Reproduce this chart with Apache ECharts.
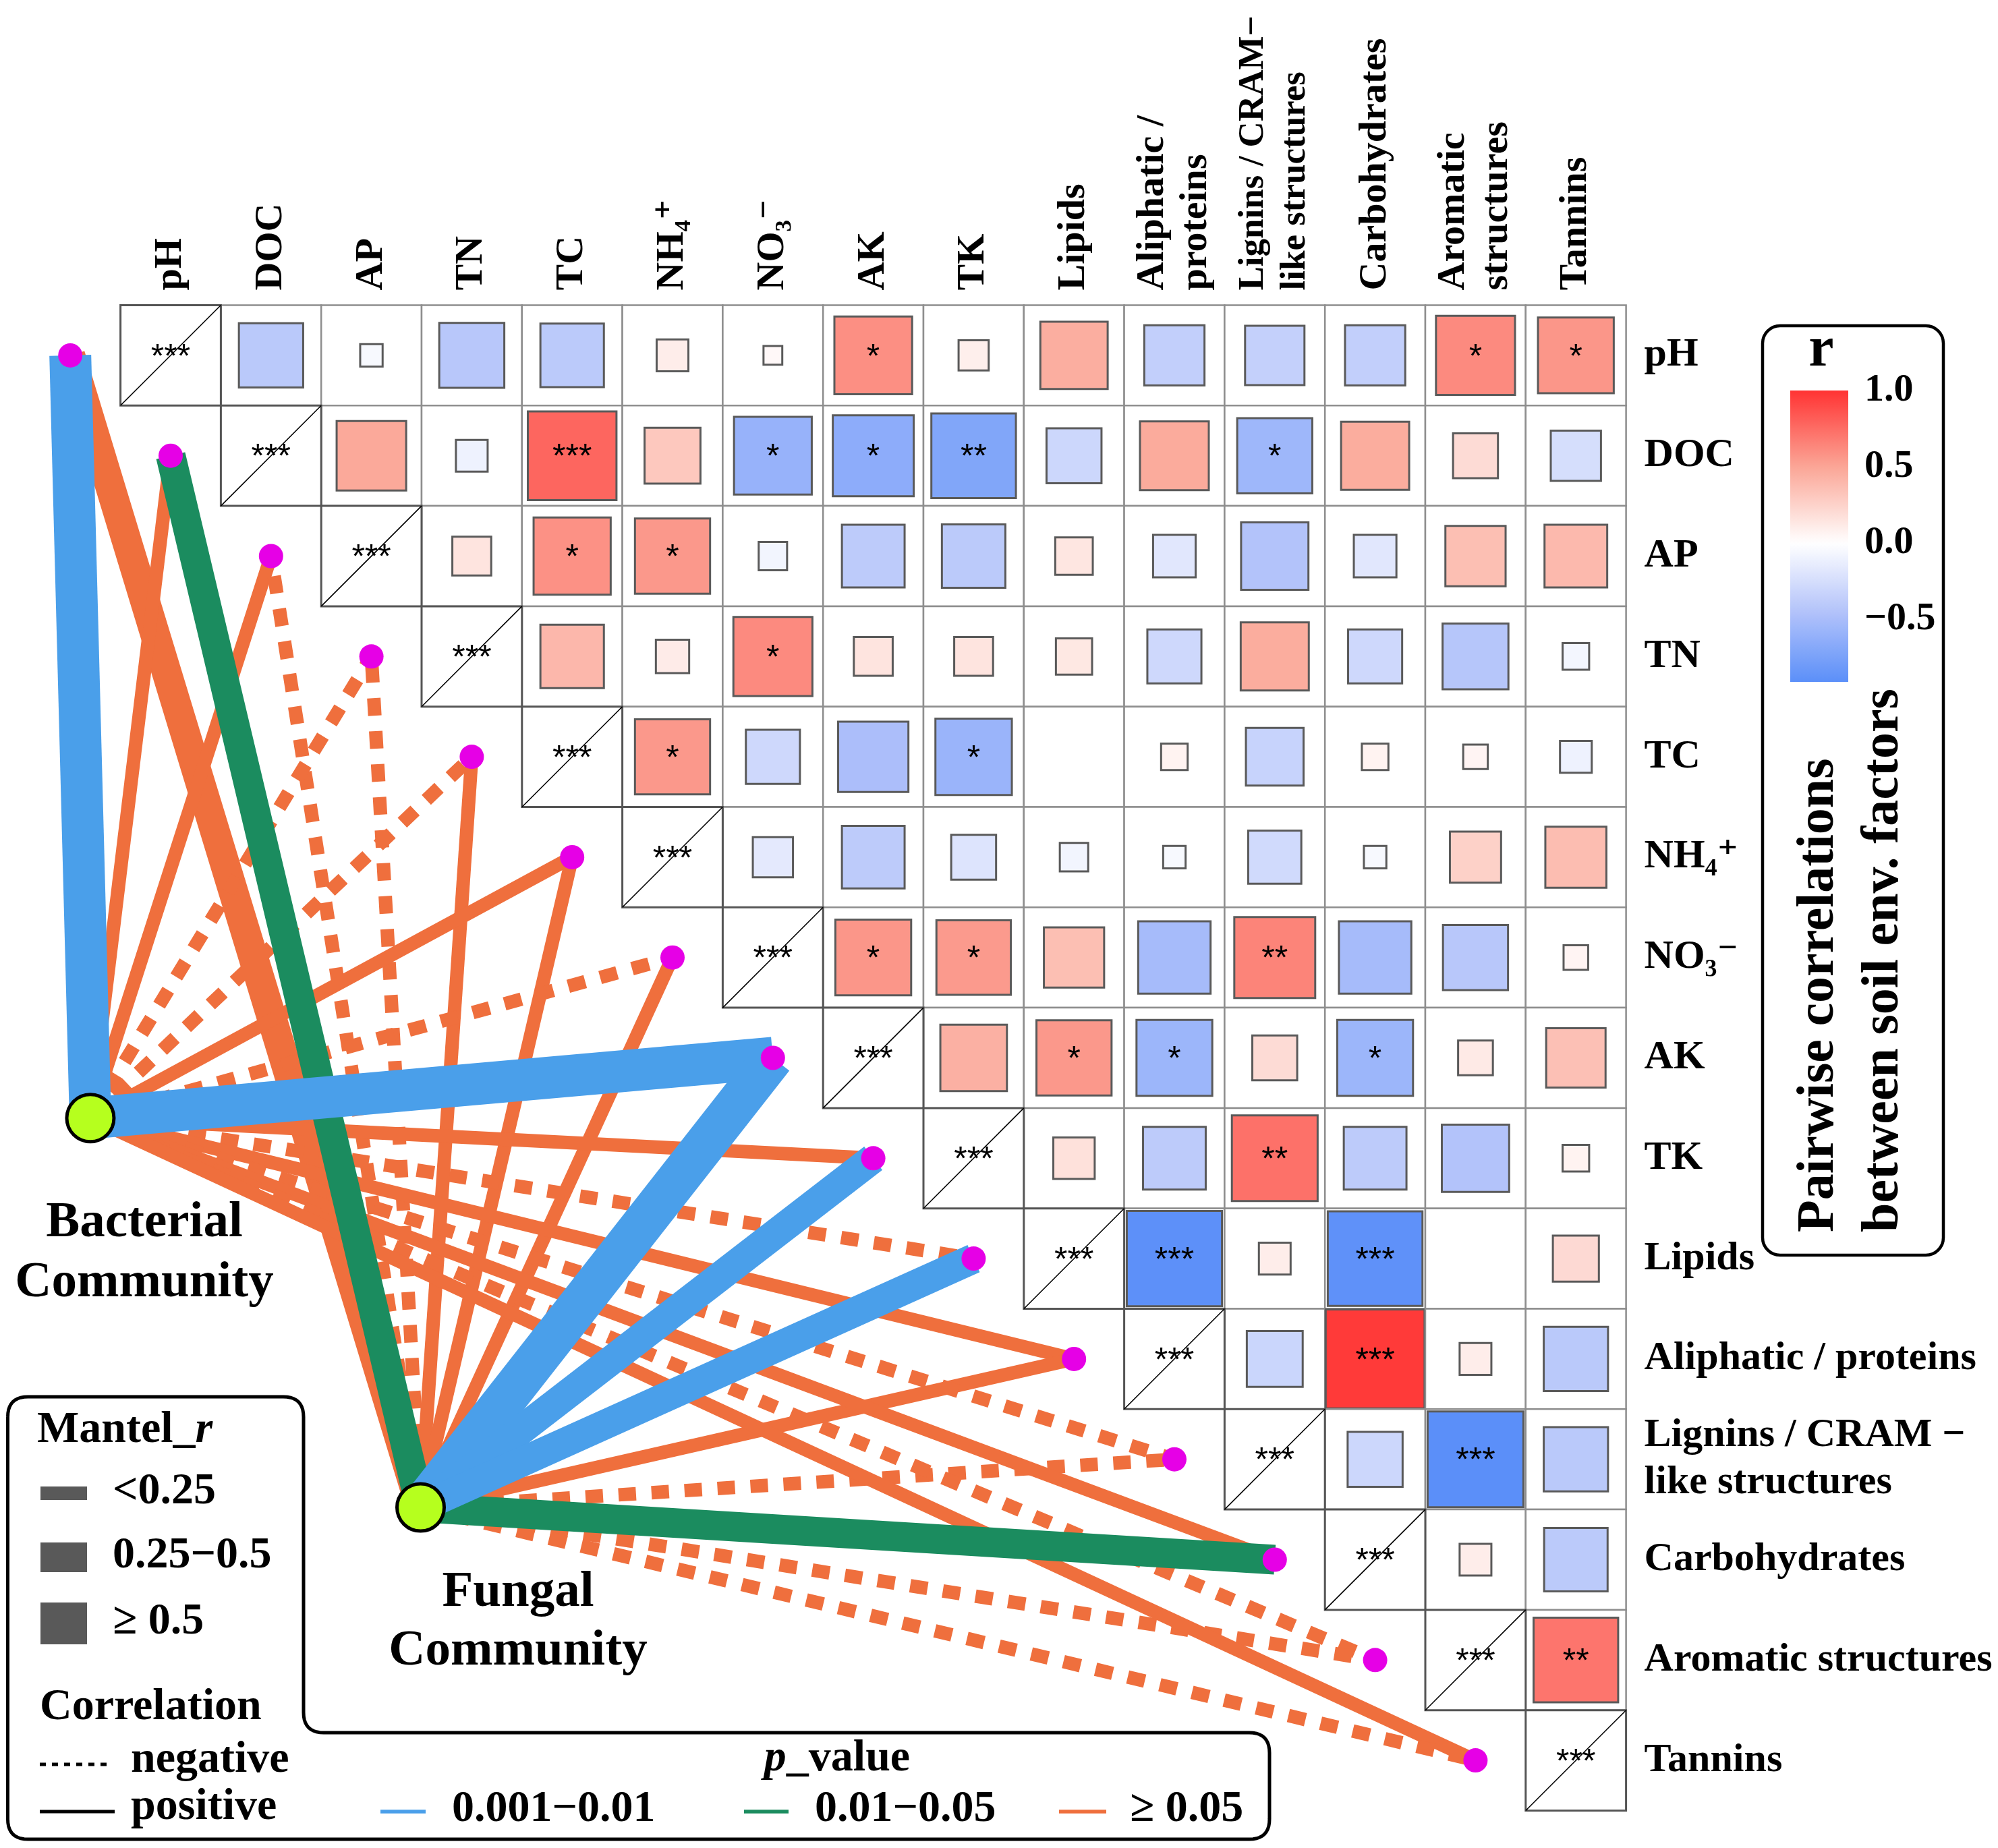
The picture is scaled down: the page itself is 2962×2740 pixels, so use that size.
<!DOCTYPE html>
<html><head><meta charset="utf-8">
<script src="https://cdn.jsdelivr.net/npm/echarts@6/dist/echarts.min.js"></script>
<style>html,body{margin:0;padding:0;background:#fff}#c{width:2962px;height:2740px}</style>
</head><body><div id="c"></div>
<script>
// ---------- DATA ----------
const colLabels = ['pH','DOC','AP','TN','TC','NH₄⁺','NO₃⁻','AK','TK','Lipids','Aliphatic /\nproteins','Lignins / CRAM−\nlike structures','Carbohydrates','Aromatic\nstructures','Tannins'];
const rowLabels = ['pH','DOC','AP','TN','TC','NH₄⁺','NO₃⁻','AK','TK','Lipids','Aliphatic / proteins','Lignins / CRAM −\nlike structures','Carbohydrates','Aromatic structures','Tannins'];

// Pairwise r, upper triangle: row i, columns i+1..14
const rPH   = [-0.41,-0.05,-0.42,-0.40,0.10,0.035,0.60,0.09,0.45,-0.36,-0.35,-0.36,0.62,0.57];
const rDOC  = [0.48,-0.10,0.78,0.31,-0.60,-0.65,-0.71,-0.30,0.47,-0.56,0.46,0.20,-0.25];
const rAP   = [0.15,0.59,0.56,-0.08,-0.39,-0.40,0.14,-0.18,-0.45,-0.18,0.36,0.39];
const rTN   = [0.40,0.11,0.62,0.15,0.15,0.13,-0.29,0.46,-0.29,-0.43,-0.07];
const rTC   = [0.56,-0.29,-0.49,-0.58,0.00,0.07,-0.33,0.07,0.06,-0.10];
const rNH4  = [-0.16,-0.39,-0.20,-0.08,-0.05,-0.28,-0.05,0.26,0.37];
const rNO3  = [0.57,0.55,0.36,-0.52,0.65,-0.52,-0.42,0.06];
const rAK   = [0.44,0.56,-0.57,0.20,-0.57,0.12,0.35];
const rTK   = [0.17,-0.39,0.73,-0.39,-0.45,0.07];
const rLip  = [-0.90,0.10,-0.89,0.00,0.21];
const rAli  = [-0.31,0.97,0.10,-0.41];
const rLig  = [-0.30,-0.91,-0.41];
const rCarb = [0.10,-0.40];
const rArom = [0.71];

const sPH   = ['','','','','','','*','','','','','','*','*'];
const sDOC  = ['','','***','','*','*','**','','','*','','',''];
const sAP   = ['','*','*','','','','','','','','',''];
const sTN   = ['','','*','','','','','','','',''];
const sTC   = ['*','','','*','','','','','',''];
const sNH4  = ['','','','','','','','',''];
const sNO3  = ['*','*','','','**','','',''];
const sAK   = ['','*','*','','*','',''];
const sTK   = ['','','**','','',''];
const sLip  = ['***','','***','',''];
const sAli  = ['','***','',''];
const sLig  = ['','***',''];
const sCarb = ['',''];
const sArom = ['**'];
const diagSig = '***';

// Mantel links: p bin (0: 0.001−0.01, 1: 0.01−0.05, 2: ≥0.05), r bin (0:<0.25, 1:0.25−0.5, 2:≥0.5), sign (+1 positive, -1 negative)
const communities = ['Bacterial\nCommunity','Fungal\nCommunity'];
const bacP    = [0,2,2,2,2,2,2,0,2,2,2,2,2,2,2];
const bacR    = [2,0,0,0,0,0,0,2,0,0,0,0,0,0,0];
const bacSign = [1,1,1,-1,-1,1,-1,1,1,-1,1,-1,1,-1,1];
const funP    = [2,1,2,2,2,2,2,0,0,0,2,2,1,2,2];
const funR    = [1,1,0,0,0,0,0,2,1,1,0,0,1,0,0];
const funSign = [1,1,-1,-1,1,1,1,1,1,1,1,-1,1,-1,-1];

const pLabels = ['0.001−0.01','0.01−0.05','≥ 0.05'];
const rLabels = ['<0.25','0.25−0.5','≥ 0.5'];
const cbTicks = [-0.5, 0, 0.5, 1.0];

// ---------- STYLE ----------
const SERIF = "'Liberation Serif','DejaVu Serif','Times New Roman',serif";
const SANS = "'Liberation Sans','DejaVu Sans',Arial,sans-serif";
const pColors = ['#4A9FEA','#1B8C5F','#EF6F3D'];
const rWidths = [20, 44, 62];
const nodePos = [[-0.30, 8.10],[2.99, 11.98]];   // layout position of community nodes (grid units)
const rMin = -0.91, rMax = 1.0;
const colorAnchors = [[-0.91,'#5B8FF9'],[-0.45,'#B3C3FA'],[0,'#FFFFFF'],[0.5,'#FBA696'],[1.0,'#FF3333']];
function h2r(h){return [parseInt(h.slice(1,3),16),parseInt(h.slice(3,5),16),parseInt(h.slice(5,7),16)];}
function colorAt(v){
  for(let k=0;k<colorAnchors.length-1;k++){
    const a=colorAnchors[k][0],ca=colorAnchors[k][1],b=colorAnchors[k+1][0],cb=colorAnchors[k+1][1];
    if(v<=b||k===colorAnchors.length-2){
      const t=Math.max(0,Math.min(1,(v-a)/(b-a)));const A=h2r(ca),B=h2r(cb);
      return 'rgb('+A.map((x,i)=>Math.round(x+(B[i]-x)*t)).join(',')+')';
    }
  }
}
const NSTOP=39, vmColors=[], gradStops=[];
for(let k=0;k<NSTOP;k++){const v=rMin+(rMax-rMin)*k/(NSTOP-1);vmColors.push(colorAt(v));}
for(let k=0;k<NSTOP;k++){const v=rMax-(rMax-rMin)*k/(NSTOP-1);gradStops.push({offset:k/(NSTOP-1),color:colorAt(v)});}

// ---------- BUILD ----------
const rRows=[rPH,rDOC,rAP,rTN,rTC,rNH4,rNO3,rAK,rTK,rLip,rAli,rLig,rCarb,rArom];
const sRows=[sPH,sDOC,sAP,sTN,sTC,sNH4,sNO3,sAK,sTK,sLip,sAli,sLig,sCarb,sArom];
const cellData=[], cellSig=[];
rRows.forEach((row,i)=>row.forEach((v,k)=>{cellData.push([i+1+k,i,v]);cellSig.push(sRows[i][k]);}));
for(let i=0;i<15;i++){cellData.push([i,i,1]);cellSig.push(diagSig);}

const linkData=[];
for(let e=0;e<15;e++){linkData.push([0,e,bacP[e],bacR[e],bacSign[e]]);linkData.push([1,e,funP[e],funR[e],funSign[e]]);}
linkData.sort((a,b)=>b[2]-a[2]);
const dotData=[]; for(let e=0;e<15;e++) dotData.push([e-0.5,e+0.5]);

function renderCell(params,api){
  const c=api.value(0), r=api.value(1), v=api.value(2);
  const tl=api.coord([c,r]), br=api.coord([c+1,r+1]);
  const w=br[0]-tl[0], h=br[1]-tl[1];
  const diag=c===r, ch=[];
  ch.push({type:'rect',shape:{x:tl[0],y:tl[1],width:w,height:h},style:{fill:'#fff',stroke:diag?'#555':'#8e8e8e',lineWidth:diag?3:2.5}});
  if(diag){
    ch.push({type:'line',shape:{x1:tl[0],y1:br[1],x2:br[0],y2:tl[1]},style:{stroke:'#000',lineWidth:1.6}});
  } else if(Math.abs(v)>0.001){
    const s=Math.sqrt(Math.abs(v))*w;
    ch.push({type:'rect',shape:{x:tl[0]+(w-s)/2,y:tl[1]+(h-s)/2,width:s,height:s},style:{fill:api.visual('color'),stroke:'#5a5a5a',lineWidth:3}});
  }
  const sg=cellSig[params.dataIndex];
  if(sg) ch.push({type:'text',x:tl[0]+w/2,y:tl[1]+h/2+4,style:{text:sg,fontFamily:SANS,fontSize:50,fill:'#000',align:'center',verticalAlign:'middle'}});
  return {type:'group',children:ch};
}
function renderLink(params,api){
  const cm=api.value(0), e=api.value(1), pb=api.value(2), rb=api.value(3), sg=api.value(4);
  const a=api.coord(nodePos[cm]), b=api.coord([e-0.5,e+0.5]);
  const st={stroke:pColors[pb],lineWidth:rWidths[rb],lineCap:'butt'};
  if(sg<0) st.lineDash=[26,23];
  return {type:'line',shape:{x1:a[0],y1:a[1],x2:b[0],y2:b[1]},style:st};
}
function renderDot(params,api){
  const p=api.coord([api.value(0),api.value(1)]);
  return {type:'circle',shape:{cx:p[0],cy:p[1],r:18},style:{fill:'#E600E6'}};
}
function renderNode(params,api){
  const p=api.coord([api.value(0),api.value(1)]);
  return {type:'circle',shape:{cx:p[0],cy:p[1],r:35},style:{fill:'#B6FF1E',stroke:'#000',lineWidth:5}};
}
function renderBar(params,api){
  const t=api.coord([0,rMax]), b=api.coord([1,rMin]);
  return {type:'rect',shape:{x:t[0],y:t[1],width:b[0]-t[0],height:b[1]-t[1]},
    style:{fill:{type:'linear',x:0,y:0,x2:0,y2:1,colorStops:gradStops}}};
}

const txt=(o)=>Object.assign({fontFamily:SERIF,fontWeight:'bold',fill:'#000'},o);
function roundedPoly(corners,R){
  const pts=[];const n=corners.length;
  for(let i=0;i<n;i++){
    const p0=corners[(i-1+n)%n],p1=corners[i],p2=corners[(i+1)%n];
    const d1=[p0[0]-p1[0],p0[1]-p1[1]],d2=[p2[0]-p1[0],p2[1]-p1[1]];
    const l1=Math.hypot(d1[0],d1[1]),l2=Math.hypot(d2[0],d2[1]);
    const a=[p1[0]+d1[0]/l1*R,p1[1]+d1[1]/l1*R],b=[p1[0]+d2[0]/l2*R,p1[1]+d2[1]/l2*R];
    for(let k=0;k<=10;k++){const t=k/10;
      pts.push([(1-t)*(1-t)*a[0]+2*(1-t)*t*p1[0]+t*t*b[0],(1-t)*(1-t)*a[1]+2*(1-t)*t*p1[1]+t*t*b[1]]);}
  }
  pts.push(pts[0]);
  return pts;
}
const framePts=roundedPoly([[11.5,2071],[450,2071],[450,2569],[1882,2569],[1882,2727],[11.5,2727]],30);

const graphics=[
  {type:'polyline',shape:{points:framePts},style:{fill:null,stroke:'#000',lineWidth:5}},
  {type:'text',x:55,y:2121,style:txt({text:'{a|Mantel_}{b|r}',verticalAlign:'middle',rich:{a:{fontFamily:SERIF,fontWeight:'bold',fontSize:66},b:{fontFamily:SERIF,fontWeight:'bold',fontStyle:'italic',fontSize:66}}})},
  {type:'text',x:59,y:2532,style:txt({text:'Correlation',fontSize:66,verticalAlign:'middle'})},
  {type:'line',shape:{x1:59,y1:2616,x2:167,y2:2616},style:{stroke:'#000',lineWidth:5,lineDash:[9,9]}},
  {type:'text',x:194,y:2610,style:txt({text:'negative',fontSize:66,verticalAlign:'middle'})},
  {type:'line',shape:{x1:59,y1:2686,x2:170,y2:2686},style:{stroke:'#000',lineWidth:5}},
  {type:'text',x:194,y:2680,style:txt({text:'positive',fontSize:66,verticalAlign:'middle'})},
  {type:'text',x:1241,y:2608,style:txt({text:'{i|p}{a|_value}',align:'center',verticalAlign:'middle',rich:{i:{fontFamily:SERIF,fontWeight:'bold',fontStyle:'italic',fontSize:66},a:{fontFamily:SERIF,fontWeight:'bold',fontSize:66}}})},
  {type:'rect',shape:{x:2613,y:483,width:268,height:1378,r:26},style:{fill:null,stroke:'#000',lineWidth:4.5}},
  {type:'text',x:2700,y:520,style:txt({text:'r',fontSize:84,align:'center',verticalAlign:'middle'})},
  {type:'text',x:2745,y:1827,rotation:Math.PI/2,style:txt({text:'Pairwise correlations\nbetween soil env. factors',fontSize:78,lineHeight:96,align:'left',verticalAlign:'middle'})},
  {type:'text',x:214,y:1858,style:txt({text:communities[0],fontSize:75,lineHeight:89,align:'center',verticalAlign:'middle'})},
  {type:'text',x:768,y:2405,style:txt({text:communities[1],fontSize:75,lineHeight:87,align:'center',verticalAlign:'middle'})}
];
const rKeyY=[2214,2309,2407];
rLabels.forEach((l,k)=>{
  graphics.push({type:'rect',shape:{x:60,y:rKeyY[k]-rWidths[k]/2,width:69,height:rWidths[k]},style:{fill:'#595959'}});
  graphics.push({type:'text',x:167,y:rKeyY[k]-2,style:txt({text:l,fontSize:66,verticalAlign:'middle'})});
});
const pKeyX=[[564,631,670],[1103,1169,1208],[1570,1640,1675]];
pLabels.forEach((l,k)=>{
  graphics.push({type:'line',shape:{x1:pKeyX[k][0],y1:2686,x2:pKeyX[k][1],y2:2686},style:{stroke:pColors[k],lineWidth:5.5}});
  graphics.push({type:'text',x:pKeyX[k][2],y:2683,style:txt({text:l,fontSize:66,verticalAlign:'middle'})});
});

const colAxisData=colLabels.map((l,i)=>i===11?{value:l,textStyle:{fontSize:53,lineHeight:62}}:l);

const chart=echarts.init(document.getElementById('c'),null,{renderer:'canvas',width:2962,height:2740});
chart.setOption({
  animation:false,
  backgroundColor:'#fff',
  grid:[{left:178.6,top:452.5,width:2232,height:2232},{left:2654,top:579,width:86,height:432}],
  xAxis:[
    {type:'value',gridIndex:0,min:0,max:15,show:false},
    {type:'category',gridIndex:0,position:'top',data:colAxisData,boundaryGap:true,axisLine:{show:false},axisTick:{show:false},splitLine:{show:false},
      axisLabel:{interval:0,rotate:-90,margin:22,color:'#000',fontFamily:SERIF,fontWeight:'bold',fontSize:58,lineHeight:64}},
    {type:'value',gridIndex:1,min:0,max:1,show:false}
  ],
  yAxis:[
    {type:'value',gridIndex:0,min:0,max:15,inverse:true,show:false},
    {type:'category',gridIndex:0,position:'right',inverse:true,data:rowLabels,boundaryGap:true,axisLine:{show:false},axisTick:{show:false},splitLine:{show:false},
      axisLabel:{interval:0,margin:27,color:'#000',fontFamily:SERIF,fontWeight:'bold',fontSize:60,lineHeight:70,align:'left'}},
    {type:'value',gridIndex:1,min:rMin,max:rMax,position:'right',splitLine:{show:false},axisLine:{show:false},
      axisTick:{show:true,inside:true,length:16,customValues:cbTicks,lineStyle:{color:'#fff',width:2.5}},
      axisLabel:{margin:24,customValues:cbTicks,color:'#000',fontFamily:SERIF,fontWeight:'bold',fontSize:58,align:'left',
        formatter:v=>Number(v).toFixed(1).replace('-','−')}},
    {type:'value',gridIndex:1,min:rMin,max:rMax,position:'left',splitLine:{show:false},axisLine:{show:false},
      axisTick:{show:true,inside:true,length:16,customValues:cbTicks,lineStyle:{color:'#fff',width:2.5}},axisLabel:{show:false}}
  ],
  visualMap:[{type:'continuous',show:false,seriesIndex:0,dimension:2,min:rMin,max:rMax,inRange:{color:vmColors}}],
  series:[
    {type:'custom',xAxisIndex:0,yAxisIndex:0,data:cellData,renderItem:renderCell,z:2},
    {type:'custom',xAxisIndex:0,yAxisIndex:0,data:linkData,renderItem:renderLink,z:3,clip:false},
    {type:'custom',xAxisIndex:0,yAxisIndex:0,data:dotData,renderItem:renderDot,z:4,clip:false},
    {type:'custom',xAxisIndex:0,yAxisIndex:0,data:nodePos,renderItem:renderNode,z:5,clip:false},
    {type:'custom',xAxisIndex:2,yAxisIndex:2,data:[[0,0]],renderItem:renderBar,z:2}
  ],
  graphic:graphics
});
</script></body></html>
